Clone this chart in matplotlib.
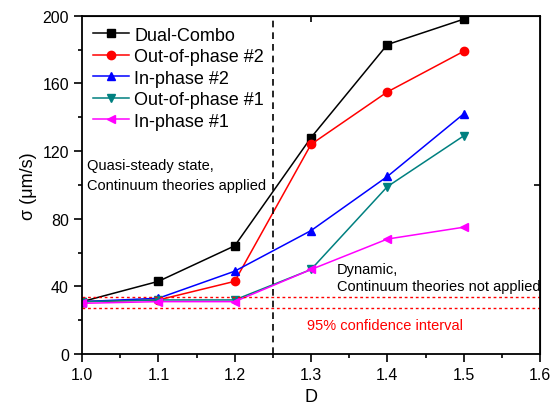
import numpy as np
import matplotlib.pyplot as plt
from matplotlib.ticker import MultipleLocator

plt.rcParams['font.family'] = ['Liberation Sans', 'DejaVu Sans']

D = [1.0, 1.1, 1.2, 1.3, 1.4, 1.5]
dual_combo = [31, 43, 64, 128, 183, 198]
out_phase_2 = [31, 32, 43, 124, 155, 179]
in_phase_2 = [31, 33, 49, 73, 105, 142]
out_phase_1 = [31, 32, 32, 50, 99, 129]
in_phase_1 = [30, 31, 31, 50, 68, 75]
conf_lo, conf_hi = 27.5, 33.5
d_critical = 1.25

fig = plt.figure(figsize=(5.51, 4.10), dpi=100)
ax = fig.add_axes([0.149, 0.134, 0.831, 0.825])

series = [
    (dual_combo, 'black', 's', 'Dual-Combo'),
    (out_phase_2, 'red', 'o', 'Out-of-phase #2'),
    (in_phase_2, 'blue', '^', 'In-phase #2'),
    (out_phase_1, '#008080', 'v', 'Out-of-phase #1'),
    (in_phase_1, 'magenta', '<', 'In-phase #1'),
]
for vals, col, mk, lab in series:
    ax.plot(D, vals, color=col, marker=mk, markersize=6, linewidth=1.1, label=lab)

ax.axhline(conf_hi, color='red', linestyle=(0, (2, 2)), linewidth=1)
ax.axhline(conf_lo, color='red', linestyle=(0, (2, 2)), linewidth=1)
ax.axvline(d_critical, color='black', linestyle=(0, (4, 3)), linewidth=1.2)

ax.text(1.007, 96, 'Quasi-steady state,\nContinuum theories applied', fontsize=10.5,
        va='bottom', linespacing=1.55)
ax.text(1.334, 36, 'Dynamic,\nContinuum theories not applied', fontsize=10.5,
        va='bottom', linespacing=1.3)
ax.text(1.295, 13, '95% confidence interval', fontsize=10.5, color='red', va='bottom')

ax.set_xlim(1.0, 1.6)
ax.set_ylim(0, 200)
ax.xaxis.set_major_locator(MultipleLocator(0.1))
ax.xaxis.set_minor_locator(MultipleLocator(0.05))
ax.yaxis.set_major_locator(MultipleLocator(40))
ax.yaxis.set_minor_locator(MultipleLocator(20))
ax.xaxis.set_major_formatter(plt.FormatStrFormatter('%.1f'))
ax.tick_params(which='both', direction='out', labelsize=11.5, width=1.2)
ax.tick_params(which='major', length=6)
ax.tick_params(which='minor', length=3)
for sp in ax.spines.values():
    sp.set_linewidth(1.3)

# single inward ticks on the top and right frame
top = ax.secondary_xaxis('top')
top.set_xticks([1.3])
top.tick_params(direction='in', length=4, width=1.2, labeltop=False)
right = ax.secondary_yaxis('right')
right.set_yticks([100])
right.tick_params(direction='in', length=4, width=1.2, labelright=False)

ax.set_xlabel('D', fontsize=13)
ax.set_ylabel('σ (μm/s)', fontsize=13)

ax.legend(loc='upper left', frameon=False, fontsize=13, handlelength=2.0,
          borderaxespad=0.2, labelspacing=0.25, handletextpad=0.3)

fig.savefig('out.png', dpi=100)
